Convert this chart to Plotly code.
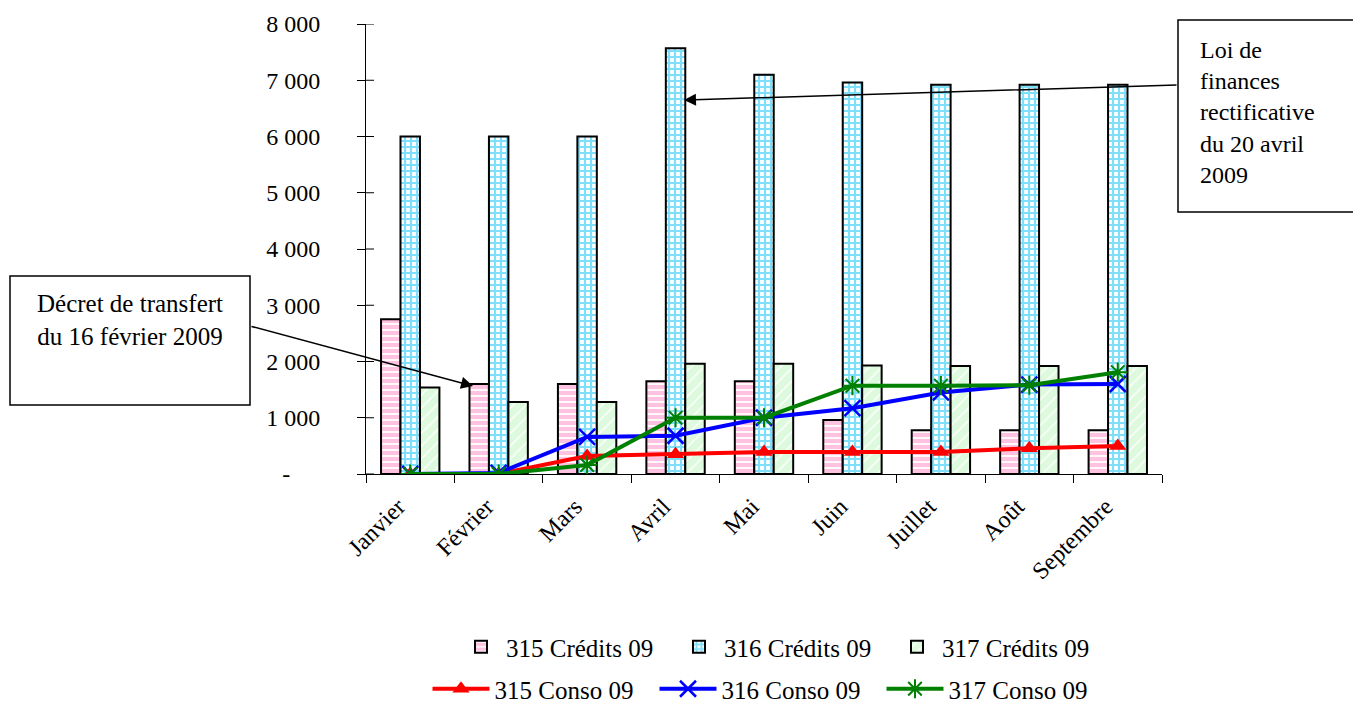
import plotly.graph_objects as go

months = ["Janvier", "Février", "Mars", "Avril", "Mai", "Juin", "Juillet", "Août", "Septembre"]
cred_315 = [2750, 1600, 1600, 1650, 1650, 960, 780, 780, 780]
cred_316 = [6000, 6000, 6000, 7570, 7100, 6960, 6920, 6920, 6920]
cred_317 = [1540, 1280, 1280, 1960, 1960, 1930, 1920, 1920, 1920]
conso_315 = [0, 0, 320, 350, 390, 390, 390, 460, 500]
conso_316 = [0, 20, 660, 680, 1000, 1170, 1450, 1590, 1600]
conso_317 = [0, 0, 160, 1000, 1000, 1570, 1570, 1580, 1810]
tick_vals = [0, 1000, 2000, 3000, 4000, 5000, 6000, 7000, 8000]
tick_text = ["-\u00a0\u00a0\u00a0\u00a0\u00a0", "1 000", "2 000", "3 000", "4 000", "5 000", "6 000", "7 000", "8 000"]

FONT = "Liberation Serif, Times New Roman, serif"
OFF = 8  # page body margin of the html page
L, R, T, B = 366 - OFF, 199, 24 - OFF, 228
W, H = 1361 - OFF, 702 - OFF
PW, PH = W - L - R, H - T - B

def px_x(p):
    # p: pixel x in the browser window
    return (p - OFF - L) / PW

def px_y(p):
    return (H - B - (p - OFF)) / PH

fig = go.Figure()
bar_line = dict(color="black", width=2)
fig.add_trace(go.Bar(x=months, y=cred_315, name="315 Crédits 09",
                     marker=dict(line=bar_line, pattern=dict(shape="-", fgcolor="#FF88C4", bgcolor="white", size=6, solidity=0.7))))
fig.add_trace(go.Bar(x=months, y=cred_316, name="316 Crédits 09",
                     marker=dict(line=bar_line, pattern=dict(shape="+", fgcolor="#00C0F8", bgcolor="white", size=6, solidity=0.6))))
fig.add_trace(go.Bar(x=months, y=cred_317, name="317 Crédits 09",
                     marker=dict(line=bar_line, pattern=dict(shape="/", fgcolor="#BDF5BD", bgcolor="white", size=9, solidity=0.85))))

fig.add_trace(go.Scatter(x=months, y=conso_315, name="315 Conso 09", mode="lines+markers", legend="legend2",
                         line=dict(color="#FF0000", width=4),
                         marker=dict(symbol="triangle-up", size=15, color="#FF0000")))
fig.add_trace(go.Scatter(x=months, y=conso_316, name="316 Conso 09", mode="lines+markers", legend="legend2",
                         line=dict(color="#0000FF", width=4),
                         marker=dict(symbol="x-thin-open", size=16, color="#0000FF", line=dict(width=2.5, color="#0000FF"))))
fig.add_trace(go.Scatter(x=months, y=conso_317, name="317 Conso 09", mode="lines+markers", legend="legend2",
                         line=dict(color="#008000", width=4),
                         marker=dict(symbol="asterisk-open", size=16, color="#008000", line=dict(width=2, color="#008000"))))

shapes = []
# inner half of y ticks (ticks cross the axis)
for v in tick_vals:
    shapes.append(dict(type="line", xref="paper", yref="y", x0=0, x1=8 / PW, y0=v, y1=v,
                       line=dict(color="black", width=1)))
# annotation boxes
shapes.append(dict(type="rect", xref="paper", yref="paper", x0=px_x(10), x1=px_x(250), y0=px_y(405), y1=px_y(276),
                   line=dict(color="black", width=1.5), fillcolor="white"))
shapes.append(dict(type="rect", xref="paper", yref="paper", x0=px_x(1178), x1=px_x(1359), y0=px_y(212), y1=px_y(20),
                   line=dict(color="black", width=1.5), fillcolor="white"))

annotations = [
    dict(xref="paper", yref="paper", x=px_x(130), y=px_y(320), text="Décret de transfert<br>du 16 février 2009",
         showarrow=False, font=dict(family=FONT, size=25, color="black"), align="center",
         xanchor="center", yanchor="middle"),
    dict(xref="paper", yref="paper", x=px_x(1198), y=px_y(112),
         text="Loi de<br>finances<br>rectificative<br>du 20 avril<br>2009",
         showarrow=False, font=dict(family=FONT, size=24, color="black"), align="left",
         xanchor="left", yanchor="middle"),
    dict(xref="paper", yref="paper", x=px_x(473), y=px_y(386), text="", showarrow=True,
         ax=250 - 473, ay=326 - 386, arrowhead=2, arrowsize=1.6, arrowwidth=1.5, arrowcolor="black"),
    dict(xref="paper", yref="paper", x=px_x(684), y=px_y(100), text="", showarrow=True,
         ax=1178 - 684, ay=85 - 100, arrowhead=2, arrowsize=1.6, arrowwidth=1.5, arrowcolor="black"),
]

fig.update_layout(
    width=W, height=H,
    margin=dict(l=L, r=R, t=T, b=B, pad=0, autoexpand=False),
    paper_bgcolor="white", plot_bgcolor="white",
    font=dict(family=FONT, size=24, color="black"),
    barmode="group", bargap=0.34, bargroupgap=0,
    shapes=shapes, annotations=annotations,
    legend=dict(orientation="h", x=px_x(783), y=px_y(647), xanchor="center", yanchor="middle",
                font=dict(family=FONT, size=25), itemwidth=40, entrywidth=163, traceorder="normal"),
    legend2=dict(orientation="h", x=px_x(768), y=px_y(689), xanchor="center", yanchor="middle",
                 font=dict(family=FONT, size=25), itemwidth=57, entrywidth=155, traceorder="normal"),
    xaxis=dict(type="category", showline=True, linecolor="black", linewidth=1, ticks="outside",
               ticklen=8, tickcolor="black", tickson="boundaries", tickangle=-45,
               tickfont=dict(family=FONT, size=24), showgrid=False, zeroline=False, range=[-0.5, 8.5],
               automargin=False, ticklabelshift=-12, ticklabelstandoff=8),
    yaxis=dict(range=[0, 8000], tickvals=tick_vals, ticktext=tick_text, showline=True, linecolor="black",
               linewidth=1, ticks="outside", ticklen=8, tickcolor="black", showgrid=False, zeroline=False,
               tickfont=dict(family=FONT, size=24), ticklabelstandoff=32, automargin=False),
)

fig.write_html("out.html")
